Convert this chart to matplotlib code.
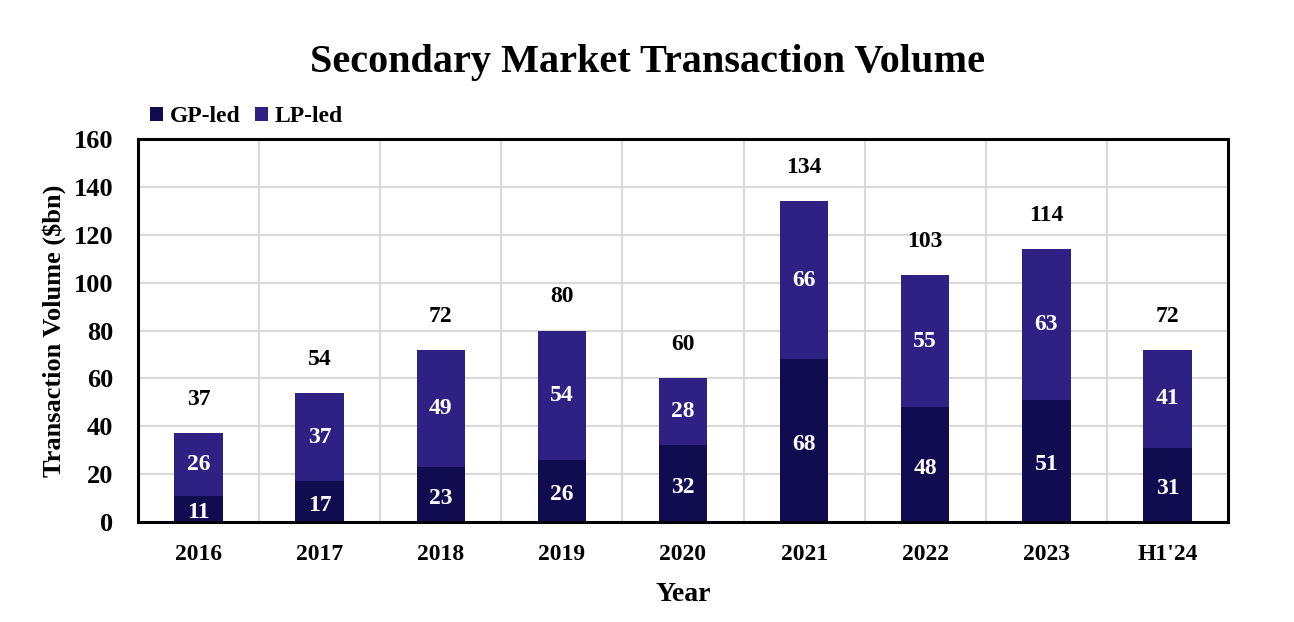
import matplotlib.pyplot as plt
import numpy as np

plt.rcParams['font.family'] = ['Liberation Serif', 'DejaVu Serif']
plt.rcParams['font.weight'] = 'bold'

years = ['2016', '2017', '2018', '2019', '2020', '2021', '2022', '2023', "H1'24"]
gp_led = [11, 17, 23, 26, 32, 68, 48, 51, 31]
lp_led = [26, 37, 49, 54, 28, 66, 55, 63, 41]
totals = [37, 54, 72, 80, 60, 134, 103, 114, 72]

gp_color = '#110C50'
lp_color = '#2F2183'

fig = plt.figure(figsize=(12.94, 6.22), dpi=100)
ax = fig.add_axes([138 / 1294, 1 - 522 / 622, 1090 / 1294, 383 / 622])

x = np.arange(len(years))
gp = np.array(gp_led)
lp = np.array(lp_led)
ax.bar(x, gp, width=0.4, color=gp_color, label='GP-led', zorder=3)
ax.bar(x, lp, width=0.4, bottom=gp, color=lp_color, label='LP-led', zorder=3)

# segment labels
for i in range(len(years)):
    ax.text(x[i], gp[i] / 2 - 1.5, str(gp_led[i]), ha='center', va='center',
            color='white', fontsize=17, fontweight='bold', zorder=4)
    ax.text(x[i], gp[i] + lp[i] / 2, str(lp_led[i]), ha='center', va='center',
            color='white', fontsize=17, fontweight='bold', zorder=4)
    ax.text(x[i], totals[i] + 14, str(totals[i]), ha='center', va='center',
            color='black', fontsize=17, fontweight='bold', zorder=4)

ax.set_xlim(-0.5, len(years) - 0.5)
ax.set_ylim(0, 160)
ax.set_yticks(np.arange(0, 161, 20))
ax.set_xticks(x)
ax.set_xticklabels(years)
ax.set_xticks(np.arange(0.5, len(years) - 0.5, 1), minor=True)
ax.tick_params(axis='both', which='both', length=0)
ax.tick_params(axis='x', labelsize=17, pad=16)
ax.tick_params(axis='y', labelsize=19, pad=18)
ax.grid(axis='y', which='major', color='#d9d9d9', lw=1.5, zorder=0)
ax.grid(axis='x', which='minor', color='#d9d9d9', lw=1.5, zorder=0)
for s in ax.spines.values():
    s.set_linewidth(2.2)
    s.set_zorder(5)

ax.set_xlabel('Year', fontsize=20, fontweight='bold', labelpad=12)
ax.set_ylabel('Transaction Volume ($bn)', fontsize=19, fontweight='bold')
ax.yaxis.set_label_coords(-0.066, 0.5)

fig.suptitle('Secondary Market Transaction Volume', fontsize=29, fontweight='bold', y=0.93)

ax.legend(loc='lower left', bbox_to_anchor=(0.0, 1.0), ncol=2, frameon=False,
          fontsize=17, handlelength=0.55, handleheight=0.55, handletextpad=0.3,
          columnspacing=0.6, borderaxespad=0.3, borderpad=0.2)

fig.savefig('out.png', dpi=100)
